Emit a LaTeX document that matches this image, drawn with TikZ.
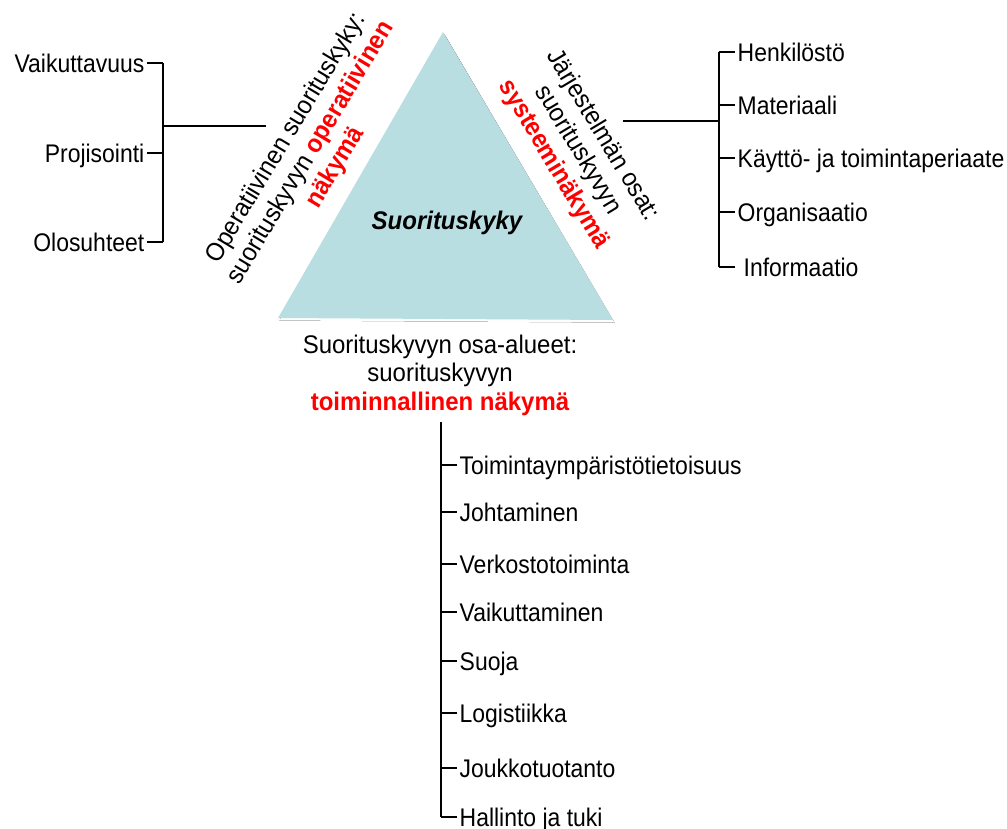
\documentclass[tikz,border=0pt]{standalone}
\usepackage{fontspec}
\setmainfont{Liberation Sans}[FakeStretch=0.94]
\newfontfamily\narrowf{Liberation Sans}[FakeStretch=0.9]
\definecolor{vred}{RGB}{255,0,0}
\definecolor{tealfill}{RGB}{185,222,225}
\definecolor{shade}{RGB}{140,150,152}
\begin{document}
\begin{tikzpicture}[x=1pt,y=-1pt,
  every node/.style={inner sep=0pt},
  thinline/.style={line width=1.1pt,black},
  thickline/.style={line width=2.2pt,black},
  item/.style={font=\narrowf\fontsize{25.5}{28}\selectfont,text height=18pt,text depth=0pt,inner xsep=2.5pt,inner ysep=0pt},
  view/.style={font=\fontsize{25.5}{28.5}\selectfont,align=center}]
\useasboundingbox (0,0) rectangle (1007,828);

% central triangle with a soft shadow
\coordinate (apex) at (443,32);
\coordinate (bl) at (278,318);
\coordinate (br) at (613,320);
\fill[shade] ([shift={(1.5,2.5)}]apex) -- ([shift={(1.5,2.5)}]bl) -- ([shift={(1.5,2.5)}]br) -- cycle;
\fill[tealfill] (apex) -- (bl) -- (br) -- cycle;
\node[font=\bfseries\itshape\fontsize{25.5}{28}\selectfont] (core) at (447,223) {Suorituskyky};

% three views around the triangle
\node[view,rotate=59] (oper) at (311,153)
  {Operatiivinen suorituskyky:\\suorituskyvyn \textbf{\color{vred}operatiivinen}\\\textbf{\color{vred}näkymä}};
\node[view,rotate=-59] (syst) at (578,150)
  {Järjestelmän osat:\\suorituskyvyn\\\textbf{\color{vred}systeeminäkymä}};
\node[view] (toim) at (440,375)
  {Suorituskyvyn osa-alueet:\\suorituskyvyn\\\textbf{\color{vred}toiminnallinen näkymä}};

% left bracket
\coordinate (lconn) at (266,126);
\coordinate (ljoin) at (163,126);
\coordinate (lt1) at (163,63);
\coordinate (lt2) at (163,153);
\coordinate (lt3) at (163,242);
\node[item,anchor=east] (vaik) at (147,63) {Vaikuttavuus};
\node[item,anchor=east] (proj) at (147,153) {Projisointi};
\node[item,anchor=east] (olos) at (147,242) {Olosuhteet};
\draw[thinline] (lt1) -- (lt3);
\draw[thinline] (vaik.east) -- (lt1);
\draw[thinline] (proj.east) -- (lt2);
\draw[thinline] (olos.east) -- (lt3);
\draw[thickline] (lconn) -- (ljoin) -- (lt2);

% right bracket
\coordinate (rconn) at (623,121);
\coordinate (rjoin) at (719,121);
\coordinate (rt1) at (719,52);
\coordinate (rt2) at (719,105);
\coordinate (rt3) at (719,158);
\coordinate (rt4) at (719,212);
\coordinate (rt5) at (719,267);
\node[item,anchor=west] (henk) at (735,52) {Henkilöstö};
\node[item,anchor=west] (mate) at (735,105) {Materiaali};
\node[item,anchor=west] (kayt) at (735,158) {Käyttö- ja toimintaperiaate};
\node[item,anchor=west] (orga) at (735,212) {Organisaatio};
\node[item,anchor=west] (info) at (735,267) {\hspace*{6pt}Informaatio};
\draw[thinline] (rt1) -- (rt5);
\draw[thinline] (rt1) -- (henk.west);
\draw[thinline] (rt2) -- (mate.west);
\draw[thinline] (rt3) -- (kayt.west);
\draw[thinline] (rt4) -- (orga.west);
\draw[thinline] (rt5) -- (info.west);
\draw[thickline] (rconn) -- (rjoin) -- (rt3);

% bottom list
\coordinate (btop) at (441,422);
\coordinate (b1) at (441,465);
\coordinate (b2) at (441,512);
\coordinate (b3) at (441,564);
\coordinate (b4) at (441,612);
\coordinate (b5) at (441,661);
\coordinate (b6) at (441,713);
\coordinate (b7) at (441,768);
\coordinate (b8) at (441,817);
\node[item,anchor=west] (t1) at (457,465) {Toimintaympäristötietoisuus};
\node[item,anchor=west] (t2) at (457,512) {Johtaminen};
\node[item,anchor=west] (t3) at (457,564) {Verkostotoiminta};
\node[item,anchor=west] (t4) at (457,612) {Vaikuttaminen};
\node[item,anchor=west] (t5) at (457,661) {Suoja};
\node[item,anchor=west] (t6) at (457,713) {Logistiikka};
\node[item,anchor=west] (t7) at (457,768) {Joukkotuotanto};
\node[item,anchor=west] (t8) at (457,817) {Hallinto ja tuki};
\draw[thickline] (btop) -- (b7);
\draw[thinline] (b7) -- (b8);
\draw[thinline] (b1) -- (t1.west);
\draw[thinline] (b2) -- (t2.west);
\draw[thinline] (b3) -- (t3.west);
\draw[thinline] (b4) -- (t4.west);
\draw[thinline] (b5) -- (t5.west);
\draw[thinline] (b6) -- (t6.west);
\draw[thinline] (b7) -- (t7.west);
\draw[thinline] (b8) -- (t8.west);
\end{tikzpicture}
\end{document}
